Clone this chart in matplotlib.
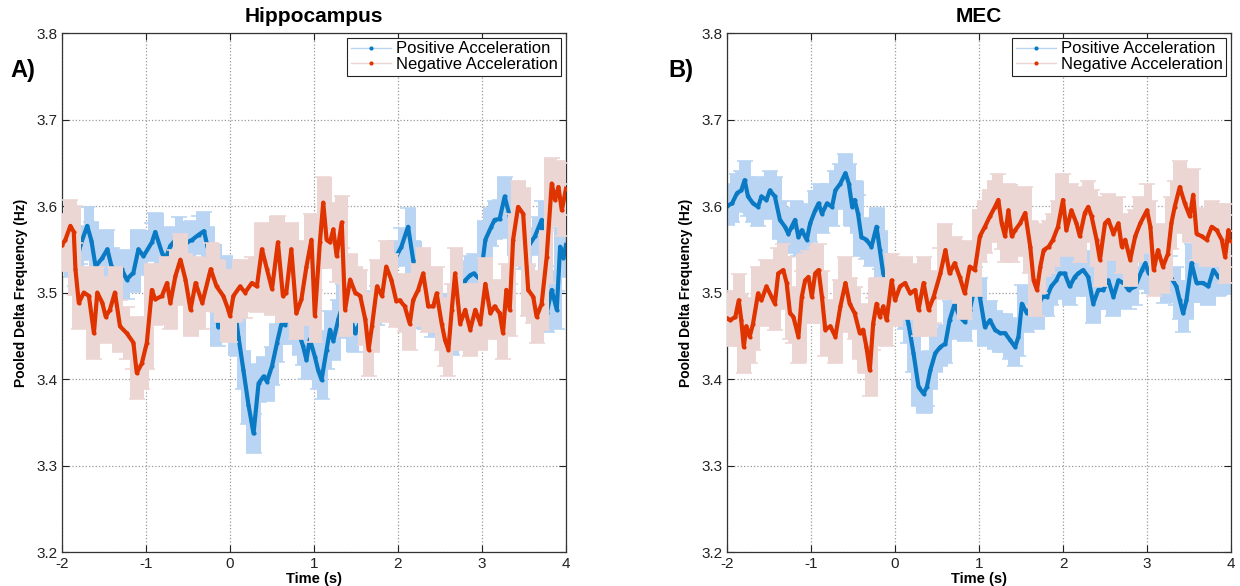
import matplotlib
matplotlib.use("Agg")
import matplotlib.pyplot as plt
from matplotlib.lines import Line2D
import numpy as np

plt.rcParams['font.family'] = ['Liberation Sans', 'DejaVu Sans']

# ---- Hippocampus: positive acceleration ----
hc_pos_t = [-2.00, -1.95, -1.90, -1.84, -1.78, -1.70, -1.65, -1.60, -1.52, -1.46, -1.41, -1.35,
            -1.29, -1.23, -1.15, -1.09, -1.03, -0.93, -0.89, -0.81, -0.77, -0.71, -0.61, -0.51,
            -0.45, -0.37, -0.31, -0.27, -0.21, -0.14, -0.06, 0.02, 0.06, 0.10, 0.16, 0.22,
            0.28, 0.34, 0.40, 0.44, 0.50, 0.56, 0.61, 0.65, 0.70, 0.77, 0.83, 0.87,
            0.91, 0.95, 1.01, 1.05, 1.09, 1.15, 1.19, 1.23, 1.29, 1.35, 1.42, 1.49,
            1.57, 1.65, 1.75, 1.88, 1.96, 2.04, 2.12, 2.18, 2.24, 2.32, 2.40, 2.48,
            2.56, 2.64, 2.70, 2.76, 2.80, 2.86, 2.90, 2.98, 3.04, 3.11, 3.15, 3.21,
            3.27, 3.33, 3.39, 3.47, 3.55, 3.63, 3.71, 3.74, 3.77, 3.83, 3.89, 3.93,
            3.97, 4.00]
hc_pos_v = [3.555, 3.550, 3.540, 3.530, 3.555, 3.577, 3.560, 3.530, 3.540, 3.550, 3.530, 3.525,
            3.527, 3.515, 3.523, 3.550, 3.542, 3.558, 3.570, 3.546, 3.538, 3.554, 3.565, 3.558,
            3.561, 3.567, 3.571, 3.554, 3.534, 3.460, 3.520, 3.515, 3.480, 3.449, 3.410, 3.370,
            3.337, 3.395, 3.403, 3.397, 3.415, 3.442, 3.463, 3.463, 3.470, 3.473, 3.450, 3.438,
            3.422, 3.446, 3.426, 3.410, 3.399, 3.434, 3.457, 3.444, 3.469, 3.488, 3.475, 3.453,
            3.470, 3.480, 3.485, 3.496, 3.538, 3.553, 3.576, 3.538, 3.500, 3.480, 3.470, 3.475,
            3.476, 3.450, 3.470, 3.500, 3.514, 3.520, 3.522, 3.515, 3.561, 3.576, 3.584, 3.585,
            3.611, 3.588, 3.565, 3.549, 3.553, 3.565, 3.584, 3.530, 3.476, 3.503, 3.480, 3.553,
            3.540, 3.555]

# ---- Hippocampus: negative acceleration ----
hc_neg_t = [-2.00, -1.96, -1.90, -1.86, -1.84, -1.80, -1.74, -1.68, -1.62, -1.58, -1.52, -1.48,
            -1.43, -1.37, -1.31, -1.23, -1.15, -1.11, -1.05, -0.99, -0.93, -0.89, -0.81, -0.75,
            -0.71, -0.65, -0.59, -0.53, -0.47, -0.41, -0.33, -0.23, -0.16, -0.08, -0.02, 0.00,
            0.04, 0.12, 0.18, 0.26, 0.32, 0.38, 0.44, 0.50, 0.57, 0.63, 0.67, 0.73,
            0.79, 0.85, 0.91, 0.97, 1.01, 1.07, 1.11, 1.15, 1.19, 1.23, 1.27, 1.33,
            1.37, 1.43, 1.49, 1.55, 1.61, 1.65, 1.69, 1.75, 1.81, 1.86, 1.92, 1.98,
            2.02, 2.08, 2.14, 2.18, 2.24, 2.30, 2.36, 2.42, 2.46, 2.52, 2.56, 2.60,
            2.64, 2.68, 2.74, 2.80, 2.86, 2.92, 2.98, 3.04, 3.10, 3.15, 3.21, 3.25,
            3.29, 3.33, 3.37, 3.43, 3.49, 3.55, 3.61, 3.65, 3.71, 3.77, 3.83, 3.87,
            3.91, 3.95, 4.00]
hc_neg_v = [3.555, 3.561, 3.577, 3.570, 3.527, 3.488, 3.500, 3.496, 3.453, 3.500, 3.488, 3.472,
            3.480, 3.500, 3.461, 3.453, 3.442, 3.407, 3.418, 3.442, 3.503, 3.492, 3.496, 3.511,
            3.488, 3.519, 3.538, 3.515, 3.480, 3.511, 3.488, 3.527, 3.507, 3.496, 3.480, 3.473,
            3.496, 3.507, 3.500, 3.511, 3.507, 3.550, 3.527, 3.504, 3.558, 3.496, 3.500, 3.550,
            3.476, 3.492, 3.530, 3.561, 3.473, 3.558, 3.604, 3.561, 3.558, 3.573, 3.542, 3.581,
            3.480, 3.515, 3.500, 3.496, 3.469, 3.434, 3.461, 3.507, 3.496, 3.530, 3.515, 3.490,
            3.491, 3.484, 3.464, 3.491, 3.503, 3.522, 3.484, 3.484, 3.499, 3.464, 3.445, 3.434,
            3.480, 3.522, 3.464, 3.480, 3.457, 3.480, 3.464, 3.510, 3.476, 3.484, 3.476, 3.453,
            3.503, 3.480, 3.561, 3.599, 3.591, 3.503, 3.495, 3.472, 3.487, 3.541, 3.626, 3.607,
            3.622, 3.595, 3.620]

# ---- MEC: positive acceleration ----
mec_pos_t = [-2.00, -1.94, -1.88, -1.83, -1.79, -1.75, -1.69, -1.63, -1.59, -1.53, -1.49, -1.43,
             -1.37, -1.31, -1.27, -1.23, -1.19, -1.15, -1.11, -1.05, -1.01, -0.95, -0.91, -0.87,
             -0.81, -0.75, -0.71, -0.65, -0.59, -0.55, -0.51, -0.48, -0.44, -0.40, -0.34, -0.28,
             -0.22, -0.18, -0.14, -0.10, -0.06, 0.00, 0.06, 0.12, 0.16, 0.22, 0.28, 0.34,
             0.38, 0.42, 0.48, 0.54, 0.60, 0.65, 0.71, 0.77, 0.83, 0.89, 0.95, 1.01,
             1.07, 1.13, 1.19, 1.25, 1.31, 1.37, 1.43, 1.47, 1.51, 1.57, 1.63, 1.69,
             1.75, 1.81, 1.86, 1.92, 1.96, 2.02, 2.08, 2.14, 2.18, 2.24, 2.30, 2.36,
             2.42, 2.48, 2.54, 2.60, 2.66, 2.72, 2.78, 2.86, 2.94, 2.98, 3.02, 3.10,
             3.20, 3.27, 3.35, 3.39, 3.43, 3.47, 3.53, 3.59, 3.67, 3.73, 3.79, 3.85,
             3.91, 4.00]
mec_pos_v = [3.600, 3.603, 3.615, 3.618, 3.630, 3.611, 3.603, 3.599, 3.611, 3.607, 3.618, 3.611,
             3.584, 3.576, 3.568, 3.576, 3.584, 3.564, 3.572, 3.561, 3.580, 3.595, 3.603, 3.591,
             3.603, 3.599, 3.618, 3.626, 3.638, 3.626, 3.599, 3.607, 3.591, 3.564, 3.561, 3.553,
             3.576, 3.549, 3.522, 3.511, 3.507, 3.500, 3.495, 3.480, 3.464, 3.430, 3.391, 3.383,
             3.391, 3.410, 3.430, 3.437, 3.441, 3.468, 3.487, 3.472, 3.466, 3.480, 3.507, 3.495,
             3.460, 3.468, 3.457, 3.453, 3.453, 3.445, 3.437, 3.449, 3.487, 3.476, 3.484, 3.480,
             3.495, 3.495, 3.507, 3.514, 3.522, 3.522, 3.507, 3.518, 3.522, 3.526, 3.518, 3.487,
             3.503, 3.503, 3.514, 3.495, 3.514, 3.511, 3.503, 3.507, 3.526, 3.534, 3.522, 3.520,
             3.510, 3.520, 3.507, 3.491, 3.476, 3.491, 3.534, 3.511, 3.511, 3.507, 3.526, 3.518,
             3.522, 3.520]

# ---- MEC: negative acceleration ----
mec_neg_t = [-2.00, -1.96, -1.90, -1.86, -1.83, -1.80, -1.77, -1.73, -1.69, -1.63, -1.59, -1.53,
             -1.47, -1.43, -1.39, -1.33, -1.29, -1.25, -1.21, -1.15, -1.11, -1.07, -1.03, -0.99,
             -0.95, -0.91, -0.87, -0.83, -0.77, -0.71, -0.65, -0.59, -0.54, -0.48, -0.42, -0.38,
             -0.34, -0.30, -0.26, -0.22, -0.18, -0.14, -0.10, -0.04, 0.00, 0.06, 0.12, 0.18,
             0.24, 0.28, 0.34, 0.40, 0.46, 0.54, 0.60, 0.65, 0.71, 0.77, 0.83, 0.89,
             0.95, 1.01, 1.07, 1.13, 1.19, 1.23, 1.27, 1.31, 1.35, 1.39, 1.43, 1.49,
             1.55, 1.61, 1.65, 1.69, 1.73, 1.77, 1.83, 1.88, 1.94, 2.00, 2.04, 2.10,
             2.16, 2.20, 2.26, 2.30, 2.34, 2.40, 2.44, 2.50, 2.54, 2.60, 2.66, 2.70,
             2.74, 2.80, 2.86, 2.92, 3.00, 3.04, 3.08, 3.13, 3.19, 3.25, 3.29, 3.33,
             3.39, 3.45, 3.51, 3.55, 3.59, 3.65, 3.71, 3.77, 3.83, 3.89, 3.93, 3.97,
             4.00]
mec_neg_v = [3.470, 3.468, 3.472, 3.491, 3.468, 3.437, 3.461, 3.449, 3.464, 3.499, 3.491, 3.507,
             3.495, 3.487, 3.522, 3.526, 3.511, 3.476, 3.472, 3.449, 3.495, 3.514, 3.518, 3.495,
             3.522, 3.526, 3.495, 3.457, 3.461, 3.449, 3.484, 3.511, 3.487, 3.476, 3.453, 3.457,
             3.437, 3.410, 3.464, 3.487, 3.472, 3.484, 3.468, 3.514, 3.491, 3.507, 3.511, 3.499,
             3.503, 3.480, 3.511, 3.480, 3.495, 3.522, 3.549, 3.522, 3.534, 3.518, 3.499, 3.530,
             3.526, 3.565, 3.576, 3.588, 3.599, 3.607, 3.580, 3.565, 3.595, 3.565, 3.572, 3.580,
             3.592, 3.553, 3.514, 3.503, 3.530, 3.549, 3.553, 3.561, 3.576, 3.607, 3.572, 3.595,
             3.580, 3.565, 3.592, 3.599, 3.588, 3.561, 3.538, 3.580, 3.584, 3.568, 3.580, 3.553,
             3.561, 3.538, 3.565, 3.580, 3.595, 3.576, 3.526, 3.549, 3.530, 3.545, 3.580, 3.599,
             3.622, 3.603, 3.588, 3.613, 3.568, 3.565, 3.561, 3.576, 3.572, 3.561, 3.541, 3.572,
             3.560]

# standard error half-widths
pos_err = 0.022
neg_err = 0.03

panel_titles = ["Hippocampus", "MEC"]
panel_letters = ["A)", "B)"]
series_labels = ["Positive Acceleration", "Negative Acceleration"]
x_ticks = [-2, -1, 0, 1, 2, 3, 4]
y_ticks = [3.2, 3.3, 3.4, 3.5, 3.6, 3.7, 3.8]

pos_line, pos_band = "#0a7ac4", "#bad5f4"
neg_line, neg_band = "#df3300", "#ecd6d4"

# half-width of the error-bar caps, in seconds
cap_half = 0.08

W, H = 1240, 586
fig = plt.figure(figsize=(W / 100, H / 100), dpi=100)
ax_left = fig.add_axes([62 / W, 34 / H, 504 / W, 519 / H])
ax_right = fig.add_axes([727 / W, 34 / H, 504 / W, 519 / H])

panels = [
    (ax_left, hc_pos_t, hc_pos_v, hc_neg_t, hc_neg_v),
    (ax_right, mec_pos_t, mec_pos_v, mec_neg_t, mec_neg_v),
]


def cap_envelope(t, v, err):
    """Outline covered by the error bars including their horizontal caps."""
    hi = np.empty_like(v)
    lo = np.empty_like(v)
    for k, tk in enumerate(t):
        near = np.abs(t - tk) <= cap_half
        hi[k] = v[near].max() + err
        lo[k] = v[near].min() - err
    return lo, hi


def draw_series(ax, t, v, err, line_c, band_c, z):
    t = np.asarray(t, dtype=float)
    v = np.asarray(v, dtype=float)
    lo, hi = cap_envelope(t, v, err)
    ax.fill_between(t, lo, hi, step='mid', color=band_c, lw=0, zorder=z)
    ax.errorbar(t, v, yerr=err, fmt='none', ecolor=band_c, elinewidth=4.0,
                capsize=6, capthick=1.2, zorder=z)
    ax.plot(t, v, color=line_c, lw=3.0, marker='.', ms=4, zorder=z + 0.5)


for i, (ax, pt, pv, nt, nv) in enumerate(panels):
    draw_series(ax, pt, pv, pos_err, pos_line, pos_band, 2)
    draw_series(ax, nt, nv, neg_err, neg_line, neg_band, 3)

    ax.set_xlim(-2, 4)
    ax.set_ylim(3.2, 3.8)
    ax.set_xticks(x_ticks)
    ax.set_xticklabels([str(x) for x in x_ticks])
    ax.set_yticks(y_ticks)
    ax.set_yticklabels([f"{y:.1f}" for y in y_ticks])
    ax.tick_params(direction='in', top=True, right=True, length=5, width=0.8,
                   labelsize=11, colors='#222222')
    ax.grid(True, linestyle=':', color='#9a9a9a', lw=0.9)
    ax.set_axisbelow(True)
    for s in ax.spines.values():
        s.set_color('#333333')
        s.set_linewidth(0.9)

    ax.set_title(panel_titles[i], fontsize=15, fontweight='bold', pad=8)
    ax.set_xlabel("Time (s)", fontsize=10.5, fontweight='bold', labelpad=1)
    ax.set_ylabel("Pooled Delta Frequency (Hz)", fontsize=10, fontweight='bold', labelpad=6)

    handles = [
        Line2D([], [], color=pos_band, lw=1, marker='.', ms=4,
               markerfacecolor=pos_line, markeredgecolor=pos_line),
        Line2D([], [], color=neg_band, lw=1, marker='.', ms=4,
               markerfacecolor=neg_line, markeredgecolor=neg_line),
    ]
    leg = ax.legend(handles, series_labels, loc='upper right', fontsize=12,
                    frameon=True, fancybox=False, framealpha=1, edgecolor='#222222',
                    borderpad=0.2, labelspacing=0.05, handlelength=2.4,
                    handletextpad=0.3, borderaxespad=0.3)
    leg.get_frame().set_linewidth(0.8)
    leg.set_zorder(10)

fig.text(10 / W, 1 - 70 / H, panel_letters[0], fontsize=17, fontweight='bold',
         va='center', ha='left')
fig.text(668 / W, 1 - 70 / H, panel_letters[1], fontsize=17, fontweight='bold',
         va='center', ha='left')

fig.savefig("out.png", dpi=100, facecolor='white')
